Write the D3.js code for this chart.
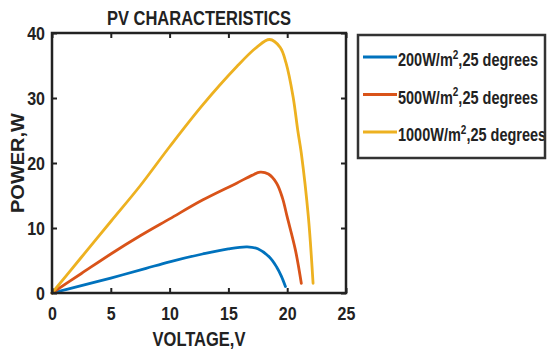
<!DOCTYPE html>
<meta charset="utf-8">
<script src="https://d3js.org/d3.v7.min.js"></script>
<style>
    body { margin: 0; background: white; }
    text { font-family: "Liberation Sans", Arial, sans-serif; font-weight: bold; fill: #222; }
</style>

<body>
    <div id="my_dataviz"></div>
</body>
<script>

    // values (voltage V, power W)
    var v200 = [0, 2, 5, 8, 10, 12.8, 15, 16.6, 17.5, 18.5, 19.1, 19.5, 19.85];
    var p200 = [0, 0.9, 2.3, 3.8, 4.8, 6.0, 6.8, 7.1, 6.8, 5.5, 4.0, 2.6, 1.0];

    var v500 = [0, 2.5, 5, 7.5, 10, 12.8, 15.7, 17.0, 17.7, 18.4, 19.1, 19.6, 20, 20.7, 21.2];
    var p500 = [0, 3.0, 6.0, 8.8, 11.4, 14.3, 16.9, 18.1, 18.6, 18.3, 16.9, 14.6, 11.7, 6.6, 1.5];

    var v1000 = [0, 2.5, 5, 7.5, 10, 12.8, 15.7, 17.4, 18.5, 19.4, 19.9, 20.5, 20.9, 21.2, 21.8, 22.2];
    var p1000 = [0, 5.5, 11, 16.5, 22.5, 28.9, 34.8, 37.8, 39.0, 37.8, 35.4, 30.2, 25.0, 21.5, 11.7, 1.5];

    var xTicks = [0, 5, 10, 15, 20, 25];
    var yTicks = [0, 10, 20, 30, 40];
    var legendLabels = ["200W/m", "500W/m", "1000W/m"];
    var colors = ["#0072BD", "#D95319", "#EDB120"];

    var width = 547,
        height = 358;
    // plot box edges (window.top is read-only, so other names)
    var boxL = 52, boxR = 346, boxT = 33, boxB = 293;
    // the picture's text looks a bit taller than wide
    var SY = 1.2;

    var svg = d3.select("#my_dataviz")
        .append("svg")
        .attr("width", width)
        .attr("height", height)

    var x = d3.scaleLinear().domain([0, 25]).range([boxL, boxR])
    var y = d3.scaleLinear().domain([0, 40]).range([boxB, boxT])

    var series = [
        v200.map(function (d, i) { return [d, p200[i]] }),
        v500.map(function (d, i) { return [d, p500[i]] }),
        v1000.map(function (d, i) { return [d, p1000[i]] })
    ];

    var line = d3.line()
        .x(function (d) { return x(d[0]) })
        .y(function (d) { return y(d[1]) })
        .curve(d3.curveCatmullRom.alpha(0.5))

    svg.selectAll(".pv")
        .data(series)
        .enter()
        .append("path")
        .attr("class", "pv")
        .attr("d", line)
        .attr("fill", "none")
        .attr("stroke", function (d, i) { return colors[i] })
        .attr("stroke-width", 2.8)
        .attr("stroke-linecap", "round")

    // axes, ticks inside on all four sides
    function styleAxis(g) {
        g.select(".domain").remove()
        g.selectAll(".tick line").attr("stroke", "#222").attr("stroke-width", 2)
        g.selectAll(".tick text").style("font-size", "16px").attr("fill", "#222")
            .attr("transform", "scale(1," + SY + ")")
    }
    svg.append("g").attr("transform", "translate(0," + boxB + ")")
        .call(d3.axisBottom(x).tickValues(xTicks).tickSize(-5).tickPadding(11))
        .call(styleAxis)
    svg.append("g").attr("transform", "translate(" + boxL + ",0)")
        .call(d3.axisLeft(y).tickValues(yTicks).tickSize(-5).tickPadding(7))
        .call(styleAxis)
    svg.append("g").attr("transform", "translate(0," + boxT + ")")
        .call(d3.axisTop(x).tickValues(xTicks).tickSize(-5).tickFormat(""))
        .call(styleAxis)
    svg.append("g").attr("transform", "translate(" + boxR + ",0)")
        .call(d3.axisRight(y).tickValues(yTicks).tickSize(-5).tickFormat(""))
        .call(styleAxis)

    svg.append("rect")
        .attr("x", boxL).attr("y", boxT)
        .attr("width", boxR - boxL).attr("height", boxB - boxT)
        .attr("fill", "none").attr("stroke", "#222").attr("stroke-width", 2.5)

    // labels
    svg.append("text")
        .attr("transform", "translate(" + (boxL + boxR) / 2 + ",25) scale(1," + SY + ")")
        .attr("text-anchor", "middle")
        .style("font-size", "16.5px")
        .text("PV CHARACTERISTICS")

    svg.append("text")
        .attr("transform", "translate(" + (boxL + boxR) / 2 + ",346) scale(1," + SY + ")")
        .attr("text-anchor", "middle")
        .style("font-size", "16.5px")
        .text("VOLTAGE,V")

    svg.append("text")
        .attr("transform", "translate(24," + (boxT + boxB) / 2 + ") rotate(-90) scale(1.25,1.1)")
        .attr("text-anchor", "middle")
        .style("font-size", "16px")
        .text("POWER,W")

    // legend
    var legend = svg.append("g")
    svg.append("clipPath").attr("id", "legclip")
        .append("rect").attr("x", 358).attr("y", 35).attr("width", 186).attr("height", 123)
    legend.append("rect")
        .attr("x", 358).attr("y", 35)
        .attr("width", 187).attr("height", 123)
        .attr("fill", "white")

    var rows = legend.append("g").attr("clip-path", "url(#legclip)")
        .selectAll(".row")
        .data(legendLabels)
        .enter()
        .append("g")
        .attr("transform", function (d, i) { return "translate(0," + (57 + i * 37.5) + ")" })

    rows.append("line")
        .attr("x1", 363).attr("x2", 397)
        .attr("stroke", function (d, i) { return colors[i] })
        .attr("stroke-width", 2.8)

    var t = rows.append("text")
        .attr("transform", "translate(398,9) scale(1,1.25)")
        .style("font-size", "14.5px")
    t.append("tspan").text(function (d) { return d })
    t.append("tspan").attr("dy", -6).style("font-size", "10px").text("2")
    t.append("tspan").attr("dy", 6).text(",25 degrees")

    legend.append("rect")
        .attr("x", 358).attr("y", 35)
        .attr("width", 187).attr("height", 123)
        .attr("fill", "none").attr("stroke", "#333").attr("stroke-width", 2.5)

</script>
